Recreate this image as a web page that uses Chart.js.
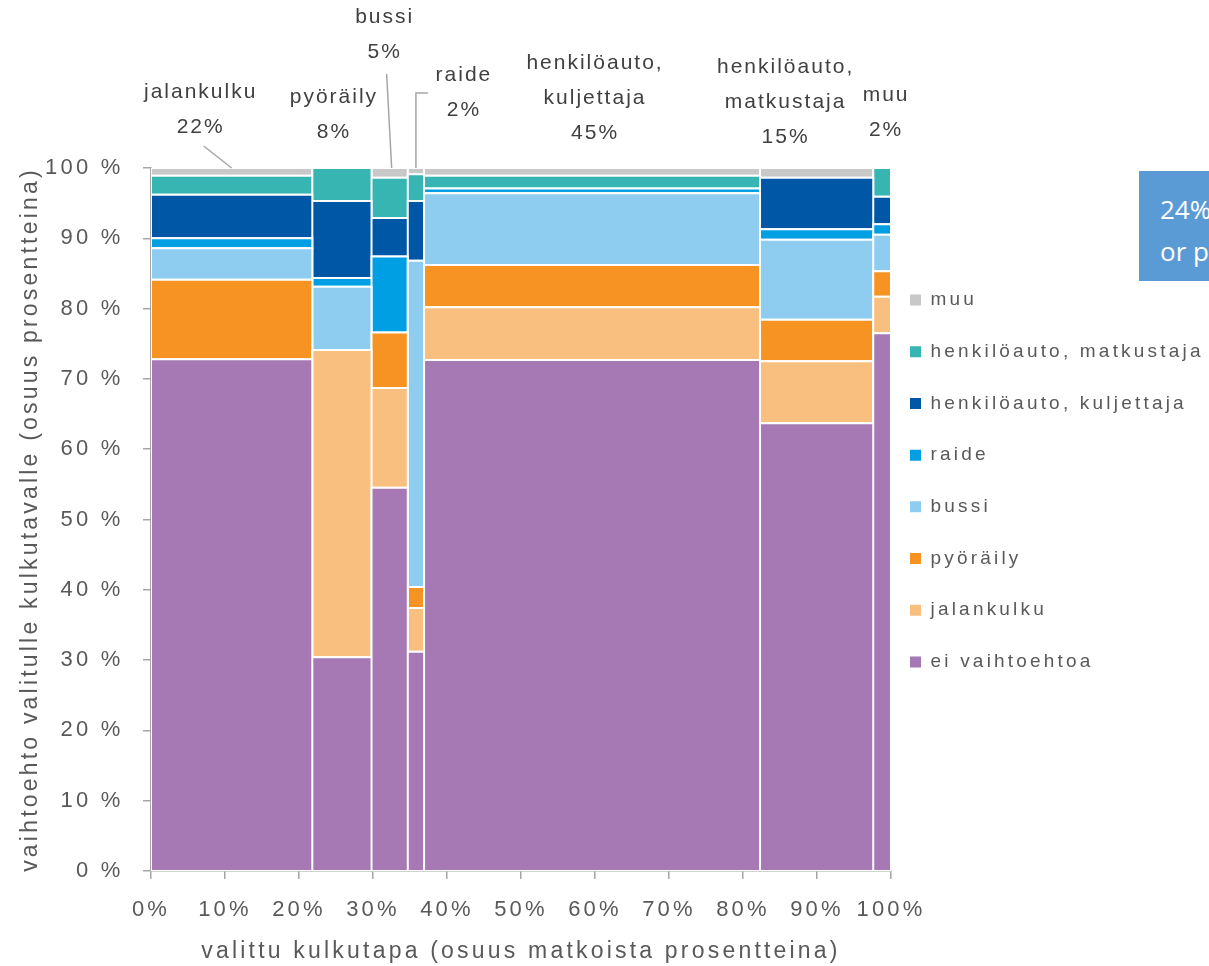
<!DOCTYPE html>
<html>
<head>
<meta charset="utf-8">
<script src="https://cdn.jsdelivr.net/npm/chart.js@4.4.1/dist/chart.umd.min.js"></script>
<style>
  html, body { margin: 0; padding: 0; background: #fff; overflow: hidden; }
  #wrap { position: relative; width: 1209px; height: 966px; }
  #note {
    position: absolute; left: 1139px; top: 171px; width: 160px; height: 110px;
    background: #5b9bd5; color: #fff; box-sizing: border-box;
    padding: 17px 0 0 21px; font: 26px "Open Sans", sans-serif; line-height: 42px;
  }
</style>
</head>
<body>
<div id="wrap">
  <canvas id="chart" width="1209" height="966"></canvas>
  <div id="note">24%<br>or p</div>
</div>
<script>
const altModes = [
  "ei vaihtoehtoa",
  "jalankulku",
  "pyöräily",
  "bussi",
  "raide",
  "henkilöauto, kuljettaja",
  "henkilöauto, matkustaja",
  "muu",
];
const chosenModes = [
  "jalankulku",
  "pyöräily",
  "bussi",
  "raide",
  "henkilöauto, kuljettaja",
  "henkilöauto, matkustaja",
  "muu",
];
// share of trips (column widths, %)
const chosenShare = [21.8, 8.0, 4.9, 2.2, 45.4, 15.3, 2.4];
const shareText = ["22%", "8%", "5%", "2%", "45%", "15%", "2%"];

// alternative mode shares inside each chosen-mode column (same order as chosenModes)
const eiVaihtoehtoa = [72.8, 30.4, 54.5, 31.2, 72.7, 63.7, 76.5];
const jalankulku = [0, 43.7, 14.2, 6.2, 7.5, 8.8, 5.2];
const pyoraily = [11.3, 0, 7.9, 3.0, 6.0, 5.9, 3.6];
const bussi = [4.5, 9.0, 0, 46.4, 10.2, 11.4, 5.2];
const raide = [1.4, 1.25, 10.8, 0, 0.7, 1.5, 1.5];
const kuljettaja = [6.2, 10.95, 5.5, 8.5, 0, 7.3, 3.9];
const matkustaja = [2.7, 4.7, 5.7, 3.8, 1.8, 0, 4.1];
const muu = [1.1, 0, 1.4, 0.9, 1.1, 1.4, 0];

const xTickLabels = ["0%", "10%", "20%", "30%", "40%", "50%", "60%", "70%", "80%", "90%", "100%"];
const yTickLabels = ["0 %", "10 %", "20 %", "30 %", "40 %", "50 %", "60 %", "70 %", "80 %", "90 %", "100 %"];

const seriesValues = [eiVaihtoehtoa, jalankulku, pyoraily, bussi, raide, kuljettaja, matkustaja, muu];
const MODE_COLORS = ["#a679b4", "#f8bf7f", "#f69322", "#8ecdf0", "#009fe3", "#0057a5", "#36b5b3", "#c8c8c8"];

const FONT = '"Liberation Sans", Arial, sans-serif';
const AXIS_COLOR = "#a6a6a6";
const TEXT_COLOR = "#595959";
const LEGEND_SPACING = "3.2px";
const AXIS_SPACING = "1.3px";

const PLOT_LEFT = 151;
const PLOT_BOTTOM = 871;
const LEGEND_DX = -13.7;
const LEGEND_DY = -38.5;

// label placement above the columns, px relative to column centre / plot top
const annotDx = [-32, -9, -6, 47, 2, -32, 3];
const annotLastY = [-41, -36, -116, -58, -35, -31, -38];
const leaders = {
  0: [[-28, -22], [0, 0]],
  2: [[-3, -94], [2, 0]],
  3: [[12, -75], [0, -75], [0, 0]],
};

const colStart = chosenShare.map((w, i) =>
  chosenShare.slice(0, i).reduce((a, b) => a + b, 0)
);
const colCenter = chosenShare.map((w, i) => colStart[i] + w / 2);

const stackBase = chosenModes.map(() => 0);
const datasets = altModes.map((name, m) => {
  const points = [];
  seriesValues[m].forEach((v, c) => {
    const x0 = colStart[c];
    const x1 = x0 + chosenShare[c];
    const y0 = stackBase[c];
    const y1 = y0 + v;
    stackBase[c] = y1;
    if (!v) return;
    points.push(
      { x: x0, y: y0 },
      { x: x1, y: y0 },
      { x: x1, y: y1 },
      { x: x0, y: y1 },
      { x: x0, y: y0 },
      { x: x0, y: null }
    );
  });
  return {
    label: name,
    data: points,
    backgroundColor: MODE_COLORS[m],
    borderColor: "#ffffff",
    borderWidth: 2,
    fill: "shape",
    pointRadius: 0,
    pointHoverRadius: 0,
    tension: 0,
    spanGaps: false,
  };
});

const textSpacing = {
  id: "textSpacing",
  beforeUpdate: (chart) => { chart.ctx.letterSpacing = LEGEND_SPACING; },
  beforeDraw: (chart) => { chart.ctx.letterSpacing = LEGEND_SPACING; },
  afterDatasetsDraw: (chart) => { chart.ctx.letterSpacing = AXIS_SPACING; },
};

// move the legend box left/up, keeping its right edge at the canvas edge
const legendShift = {
  id: "legendShift",
  afterLayout: (chart) => {
    const lg = chart.legend;
    lg.left += LEGEND_DX;
    lg.width -= LEGEND_DX;
    lg.top += LEGEND_DY;
    lg.bottom += LEGEND_DY;
  },
};

const columnLabels = {
  id: "columnLabels",
  afterDraw: (chart) => {
    const { ctx, chartArea, scales } = chart;
    ctx.save();
    ctx.strokeStyle = AXIS_COLOR;
    ctx.lineWidth = 1.5;
    Object.keys(leaders).forEach((k) => {
      const cx = scales.x.getPixelForValue(colCenter[k]);
      ctx.beginPath();
      leaders[k].forEach(([dx, dy], j) => {
        const px = cx + dx;
        const py = chartArea.top + dy;
        if (j === 0) ctx.moveTo(px, py);
        else ctx.lineTo(px, py);
      });
      ctx.stroke();
    });

    ctx.font = "21px " + FONT;
    ctx.letterSpacing = "2px";
    ctx.fillStyle = "#404040";
    ctx.textAlign = "center";
    ctx.textBaseline = "middle";
    chosenModes.forEach((name, i) => {
      const lines = name.split(/(?<=,) /).concat(shareText[i]);
      const cx = scales.x.getPixelForValue(colCenter[i]) + annotDx[i];
      const lastY = chartArea.top + annotLastY[i];
      lines.forEach((t, j) => {
        ctx.fillText(t, cx + 1, lastY - (lines.length - 1 - j) * 35);
      });
    });
    ctx.restore();
  },
};

new Chart(document.getElementById("chart"), {
  type: "line",
  data: { datasets },
  plugins: [textSpacing, legendShift, columnLabels],
  options: {
    responsive: false,
    animation: false,
    events: [],
    layout: { padding: { top: 168, left: 0, right: 0, bottom: 0 } },
    plugins: {
      tooltip: { enabled: false },
      legend: {
        position: "right",
        align: "center",
        fullSize: false,
        reverse: true,
        maxWidth: 318,
        labels: {
          boxWidth: 11,
          boxHeight: 11,
          padding: 32.7,
          color: TEXT_COLOR,
          font: { family: FONT, size: 19 },
          generateLabels: (chart) =>
            Chart.defaults.plugins.legend.labels
              .generateLabels(chart)
              .map((l) => ({ ...l, strokeStyle: l.fillStyle, lineWidth: 0 })),
        },
      },
    },
    scales: {
      x: {
        type: "linear",
        min: 0,
        max: 100,
        z: 1,
        afterFit: (scale) => { scale.height = 966 - PLOT_BOTTOM; },
        border: { color: AXIS_COLOR, width: 1.5 },
        grid: { drawOnChartArea: false, tickLength: 8, color: AXIS_COLOR, lineWidth: 1.5 },
        ticks: {
          stepSize: 10,
          autoSkip: false,
          maxRotation: 0,
          padding: 18,
          color: TEXT_COLOR,
          font: { family: FONT, size: 22 },
          callback: (v, i) => xTickLabels[i],
        },
        title: {
          display: true,
          text: "valittu kulkutapa (osuus matkoista prosentteina)",
          color: TEXT_COLOR,
          font: { family: FONT, size: 23 },
          padding: { top: 0, bottom: 1 },
        },
      },
      y: {
        type: "linear",
        min: 0,
        max: 100,
        z: 1,
        afterFit: (scale) => { scale.width = PLOT_LEFT; },
        border: { color: AXIS_COLOR, width: 1.5 },
        grid: { drawOnChartArea: false, tickLength: 8, color: AXIS_COLOR, lineWidth: 1.5 },
        ticks: {
          stepSize: 10,
          padding: 19.5,
          color: TEXT_COLOR,
          font: { family: FONT, size: 22 },
          callback: (v, i) => yTickLabels[i],
        },
        title: {
          display: true,
          text: "vaihtoehto valitulle kulkutavalle (osuus prosentteina)",
          color: TEXT_COLOR,
          font: { family: FONT, size: 23 },
          padding: { top: 16.5, bottom: 0 },
        },
      },
    },
  },
});
</script>
</body>
</html>
